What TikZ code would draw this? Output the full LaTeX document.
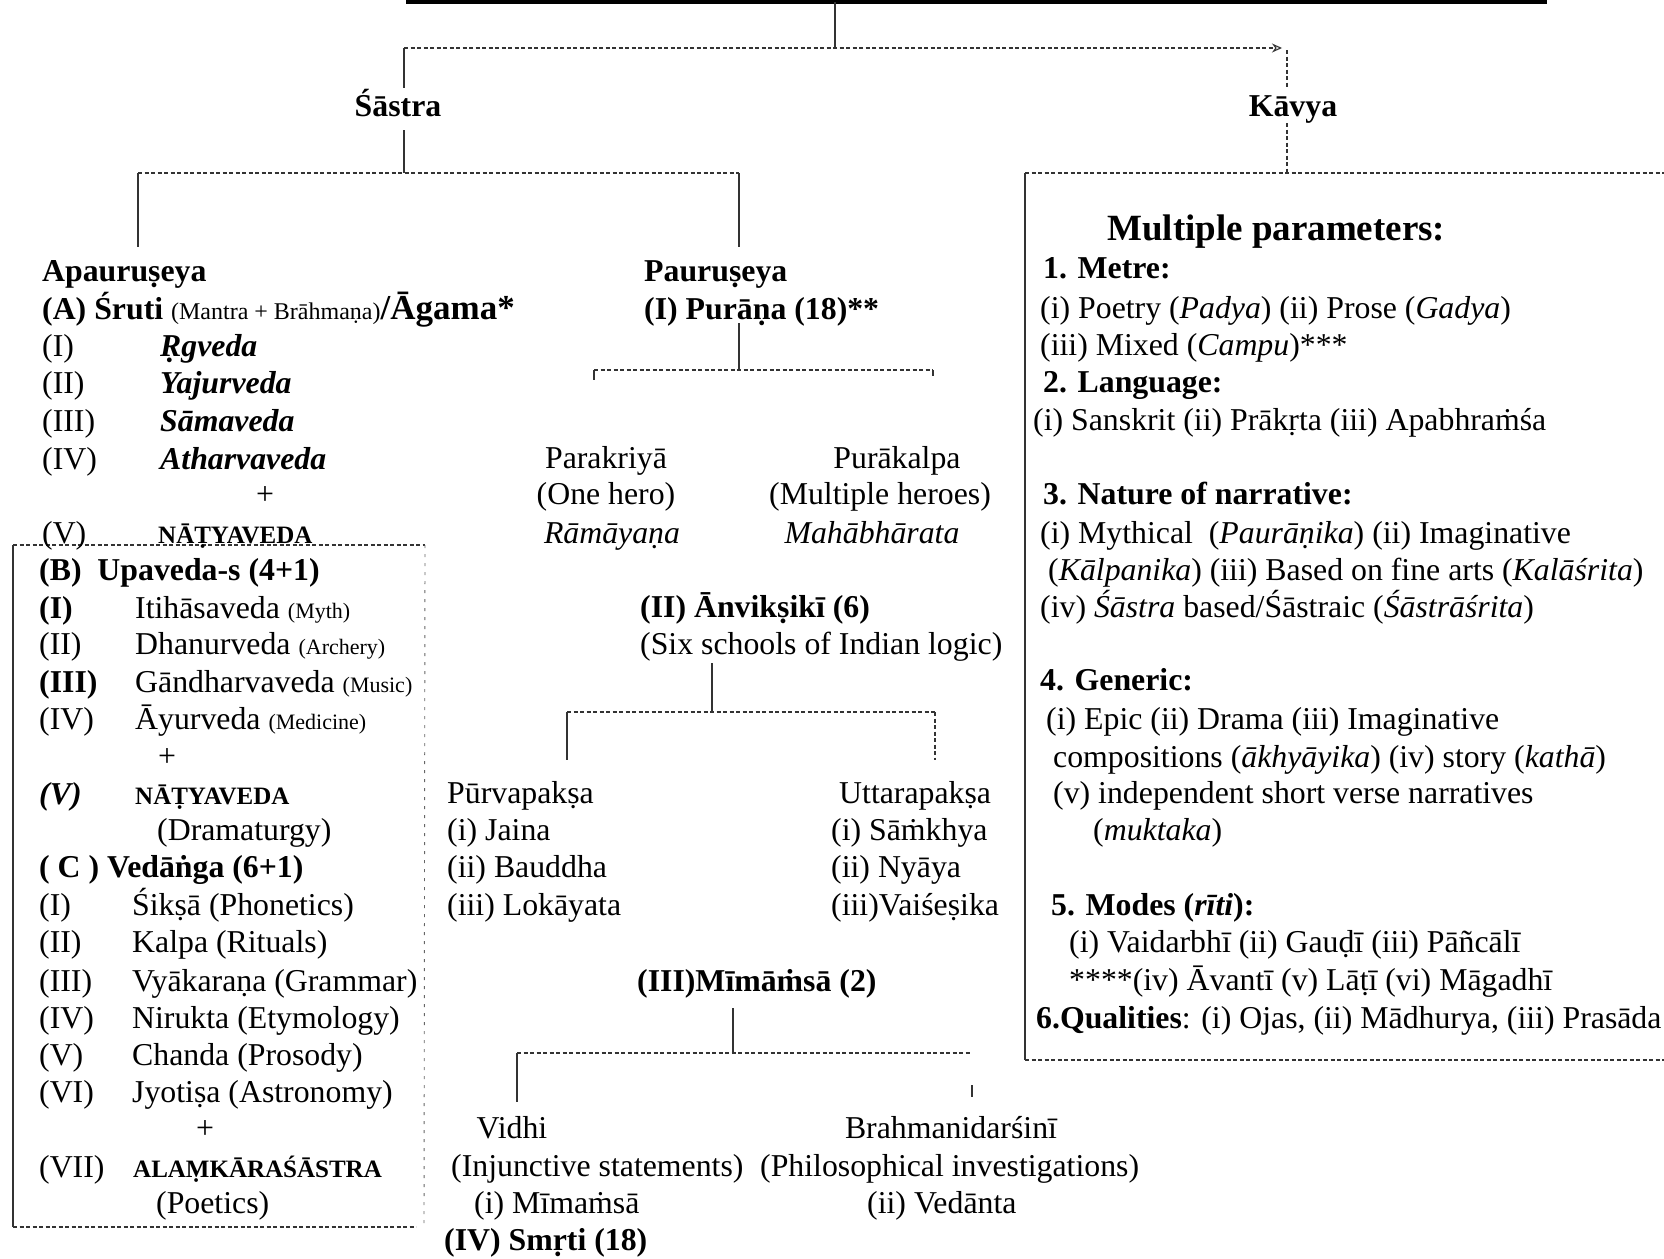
\documentclass[tikz,border=0pt]{standalone}
\usepackage{fontspec}
\setmainfont{Liberation Serif}
\usetikzlibrary{arrows.meta}
\newcommand\bodyf{\fontsize{31.8}{37}\selectfont}
\newcommand\smallf{\fontsize{24}{28}\selectfont}
\newcommand\tinyf{\fontsize{22}{26}\selectfont}
\newcommand\capf{\fontsize{25}{30}\selectfont\bfseries}
\newcommand\headf{\fontsize{37}{42}\selectfont\bfseries}
\newcommand\bigf{\fontsize{35}{40}\selectfont\bfseries}
\newcommand\txtl[4]{\node[tl] (#1) at (#2,#3) {#4};}
\newcommand\txtc[4]{\node[tc] (#1) at (#2,#3) {#4};}
\newcommand\tabx[2]{\makebox[#1pt][l]{#2}}
\begin{document}
\begin{tikzpicture}[x=1pt,y=-1pt,
  tl/.style={anchor=base west, inner sep=0pt, font=\bodyf},
  tc/.style={anchor=base, inner sep=0pt, font=\bodyf},
  conn/.style={line width=1.1pt, black!80},
  dsh/.style={conn, dash pattern=on 4pt off 2.5pt},
  ldsh/.style={line width=0.9pt, black!60, dash pattern=on 3pt off 6pt}]
\useasboundingbox (0,0) rectangle (1664,1258);

% ---------- connectors ----------
\coordinate (t1) at (406,2); \coordinate (t2) at (1547,2);
\draw[line width=4pt] (t1) -- (t2);
\coordinate (tm) at (835,2); \coordinate (tmb) at (835,48);
\draw[conn] (tm) -- (tmb);
\coordinate (hl) at (404,48); \coordinate (hr) at (1282,48);
\draw[dsh,-{Stealth[open,length=10pt,width=9pt]}] (hl) -- (hr);
\coordinate (k1) at (1287,50); \coordinate (k2) at (1287,88);
\coordinate (k3) at (1287,123); \coordinate (k4) at (1287,173);
\draw[dsh] (k1) -- (k2); \draw[dsh] (k3) -- (k4);
\coordinate (s1) at (404,88); \coordinate (s2) at (404,130); \coordinate (s3) at (404,173);
\draw[conn] (hl) -- (s1); \draw[conn] (s2) -- (s3);
\coordinate (a1) at (138,173); \coordinate (a2) at (739,173);
\coordinate (a1b) at (138,247); \coordinate (a2b) at (739,247);
\draw[dsh] (a1) -- (a2);
\draw[conn] (a1) -- (a1b); \draw[conn] (a2) -- (a2b);
% Kavya box
\coordinate (kb1) at (1025,173); \coordinate (kb2) at (1664,173);
\coordinate (kb3) at (1025,1060); \coordinate (kb4) at (1664,1060);
\draw[dsh] (kb1) -- (kb2);
\draw[conn] (kb1) -- (kb3);
\draw[dsh] (kb3) -- (kb4);
% Upaveda box
\coordinate (ub1) at (13,545); \coordinate (ub2) at (425,545);
\coordinate (ub3) at (13,1227); \coordinate (ub4) at (424,1227); \coordinate (ub5) at (416,1227);
\draw[conn] (ub1) -- (ub3);
\draw[dsh] (ub1) -- (ub2);
\draw[ldsh] (ub2) -- (ub4);
\draw[dsh] (ub3) -- (ub5);
% Purana
\coordinate (p1) at (739,323); \coordinate (p2) at (739,370);
\coordinate (p3) at (594,370); \coordinate (p4) at (933,370);
\coordinate (p3b) at (594,380); \coordinate (p4b) at (933,376);
\draw[conn] (p1) -- (p2);
\draw[dsh] (p3) -- (p4);
\draw[conn] (p3) -- (p3b); \draw[conn] (p4) -- (p4b);
% Anviksiki
\coordinate (n1) at (712,663); \coordinate (n2) at (712,712);
\coordinate (n3) at (567,712); \coordinate (n4) at (935,712);
\coordinate (n3b) at (567,760); \coordinate (n4b) at (935,760);
\draw[conn] (n1) -- (n2);
\draw[dsh] (n3) -- (n4);
\draw[conn] (n3) -- (n3b); \draw[dsh] (n4) -- (n4b);
% Mimamsa
\coordinate (m1) at (733,1008); \coordinate (m2) at (733,1053);
\coordinate (m3) at (517,1053); \coordinate (m4) at (970,1053);
\coordinate (m3b) at (517,1102);
\coordinate (m5) at (972,1085); \coordinate (m6) at (972,1097);
\draw[conn] (m1) -- (m2);
\draw[dsh] (m3) -- (m4);
\draw[conn] (m3) -- (m3b);
\draw[conn] (m5) -- (m6);

% ---------- top level ----------
\txtc{sastra}{398}{116}{\textbf{Śāstra}}
\txtc{kavya}{1293}{116}{\textbf{Kāvya}}

% ---------- Apauruseya ----------
\txtl{apau}{42}{281}{\textbf{Apauruṣeya}}
\txtl{sruti}{42}{319}{\textbf{(A) Śruti} {\smallf (Mantra + Brāhmaṇa)}{\bigf/Āgama*}}
\txtl{rg}{42}{356}{\tabx{118}{(I)}\textbf{\textit{Ṛgveda}}}
\txtl{yaj}{42}{393}{\tabx{118}{(II)}\textbf{\textit{Yajurveda}}}
\txtl{sama}{42}{431}{\tabx{118}{(III)}\textbf{\textit{Sāmaveda}}}
\txtl{athar}{42}{469}{\tabx{118}{(IV)}\textbf{\textit{Atharvaveda}}}
\txtc{plus1}{265}{504}{+}
\txtl{natya1}{42}{543}{\tabx{116}{(V)}{\capf NĀṬYAVEDA}}
% box content
\txtl{upa}{39}{580}{\textbf{(B)\ \ Upaveda-s (4+1)}}
\txtl{iti}{39}{618}{\tabx{96}{\textbf{(I)}}Itihāsaveda {\tinyf (Myth)}}
\txtl{dhan}{39}{654}{\tabx{96}{(II)}Dhanurveda {\tinyf (Archery)}}
\txtl{gan}{39}{692}{\tabx{96}{\textbf{(III)}}Gāndharvaveda {\tinyf (Music)}}
\txtl{ayur}{39}{729}{\tabx{96}{(IV)}Āyurveda {\tinyf (Medicine)}}
\txtc{plus2}{167}{766}{+}
\txtl{natya2}{39}{804}{\tabx{96}{\textbf{\textit{(V)}}}{\capf NĀṬYAVEDA}}
\txtl{drama}{157}{840}{(Dramaturgy)}
\txtl{vedanga}{39}{877}{\textbf{( C ) Vedāṅga (6+1)}}
\txtl{siksa}{39}{915}{\tabx{93}{(I)}Śikṣā (Phonetics)}
\txtl{kalpa}{39}{952}{\tabx{93}{(II)}Kalpa (Rituals)}
\txtl{vyak}{39}{991}{\tabx{93}{(III)}Vyākaraṇa (Grammar)}
\txtl{nir}{39}{1028}{\tabx{93}{(IV)}Nirukta (Etymology)}
\txtl{chan}{39}{1065}{\tabx{93}{(V)}Chanda (Prosody)}
\txtl{jyot}{39}{1102}{\tabx{93}{(VI)}Jyotiṣa (Astronomy)}
\txtc{plus3}{205}{1138}{+}
\txtl{alam}{39}{1177}{\tabx{94}{(VII)}{\capf ALAṂKĀRAŚĀSTRA}}
\txtl{poet}{156}{1213}{(Poetics)}

% ---------- Pauruseya ----------
\txtl{paur}{644}{281}{\textbf{Pauruṣeya}}
\txtl{purana}{644}{319}{\textbf{(I) Purāṇa (18)**}}
\txtc{parak}{606}{468}{Parakriyā}
\txtc{onehero}{606}{504}{(One hero)}
\txtc{ramay}{612}{543}{\textit{Rāmāyaṇa}}
\txtc{purak}{897}{468}{Purākalpa}
\txtc{multh}{880}{504}{(Multiple heroes)}
\txtc{mahab}{872}{543}{\textit{Mahābhārata}}
\txtl{anvik}{640}{617}{\textbf{(II) Ānvikṣikī (6)}}
\txtl{sixs}{640}{654}{(Six schools of Indian logic)}
\txtl{purva}{447}{803}{Pūrvapakṣa}
\txtl{jaina}{447}{840}{(i) Jaina}
\txtl{baud}{447}{877}{(ii) Bauddha}
\txtl{lok}{447}{915}{(iii) Lokāyata}
\txtl{uttara}{839}{803}{Uttarapakṣa}
\txtl{samk}{831}{840}{(i) Sāṁkhya}
\txtl{nyaya}{831}{877}{(ii) Nyāya}
\txtl{vais}{831}{915}{(iii)Vaiśeṣika}
\txtl{mima}{637}{991}{\textbf{(III)Mīmāṁsā (2)}}
\txtc{vidhi}{512}{1138}{Vidhi}
\txtl{injun}{451}{1176}{(Injunctive statements)}
\txtl{mim2}{474}{1213}{(i) Mīmaṁsā}
\txtl{smrti}{444}{1250}{\textbf{(IV) Smṛti (18)}}
\txtc{brahm}{951}{1138}{Brahmanidarśinī}
\txtl{philo}{760}{1176}{(Philosophical investigations)}
\txtl{vedan}{867}{1213}{(ii) Vedānta}

% ---------- Kavya parameters ----------
\node[tl, font=\headf] (multi) at (1107,240) {Multiple parameters:};
\txtl{metre}{1043}{278}{\textbf{1. Metre:}}
\txtl{poetry}{1040}{318}{(i) Poetry (\textit{Padya}) (ii) Prose (\textit{Gadya})}
\txtl{mixed}{1040}{355}{(iii) Mixed (\textit{Campu})***}
\txtl{lang}{1043}{392}{\textbf{2. Language:}}
\txtl{sansk}{1033}{430}{(i) Sanskrit (ii) Prākṛta (iii) Apabhraṁśa}
\txtl{nature}{1043}{504}{\textbf{3. Nature of narrative:}}
\txtl{myth}{1040}{543}{(i) Mythical\ \ (\textit{Paurāṇika}) (ii) Imaginative}
\txtl{kalp}{1048}{580}{(\textit{Kālpanika}) (iii) Based on fine arts (\textit{Kalāśrita})}
\txtl{sastr}{1040}{617}{(iv) \textit{Śāstra} based/Śāstraic (\textit{Śāstrāśrita})}
\txtl{gener}{1040}{690}{\textbf{4. Generic:}}
\txtl{epic}{1046}{729}{(i) Epic (ii) Drama (iii) Imaginative}
\txtl{compo}{1053}{767}{compositions (\textit{ākhyāyika}) (iv) story (\textit{kathā})}
\txtl{indep}{1053}{803}{(v) independent short verse narratives}
\txtl{mukt}{1093}{840}{(\textit{muktaka})}
\txtl{modes}{1051}{915}{\textbf{5. Modes (\textit{rīti}):}}
\txtl{vaid}{1069}{952}{(i) Vaidarbhī (ii) Gauḍī (iii) Pāñcālī}
\txtl{avan}{1069}{990}{****(iv) Āvantī (v) Lāṭī (vi) Māgadhī}
\txtl{qual}{1036}{1028}{\textbf{6.Qualities}: (i) Ojas, (ii) Mādhurya, (iii) Prasāda}
\end{tikzpicture}
\end{document}
